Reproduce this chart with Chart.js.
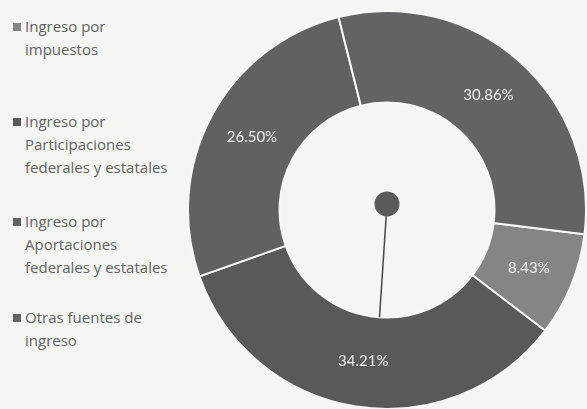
<!DOCTYPE html>
<html>
<head>
<meta charset="utf-8">
<script src="https://cdn.jsdelivr.net/npm/chart.js@4"></script>
<style>
  body { margin: 0; background: #f5f5f4; width: 587px; height: 409px; overflow: hidden; position: relative; font-family: "Open Sans", Lato, sans-serif; }
  #wrap { position: absolute; left: 187px; top: 10px; width: 400px; height: 400px; }
  .item { position: absolute; left: 13px; color: #636363; font-size: 15px; line-height: 23px; }
  .item .sw { position: absolute; left: 0; top: 8px; width: 8px; height: 8px; }
  .item .tx { margin-left: 12px; white-space: nowrap; }
</style>
</head>
<body>
<div id="legend"></div>
<div id="wrap"><canvas id="chart" width="400" height="400"></canvas></div>
<script>
// categorias (en el orden de la leyenda)
const categorias = [
  ['Ingreso por', 'impuestos'],
  ['Ingreso por', 'Participaciones', 'federales y estatales'],
  ['Ingreso por', 'Aportaciones', 'federales y estatales'],
  ['Otras fuentes de', 'ingreso']
];
const porcentajes = [8.43, 34.21, 26.50, 30.86];
const colores = ['#858585', '#595959', '#616161', '#636363'];
const legendTops = [15, 110, 210, 306];

// leyenda en html porque las etiquetas van en varias lineas
const legend = document.getElementById('legend');
categorias.forEach((lineas, i) => {
  const d = document.createElement('div');
  d.className = 'item';
  d.style.top = legendTops[i] + 'px';
  d.innerHTML = '<span class="sw" style="background:' + colores[i] + '"></span><div class="tx">' + lineas.join('<br>') + '</div>';
  legend.appendChild(d);
});

// etiquetas de porcentaje y el punto del centro
const extras = {
  id: 'extras',
  afterDatasetsDraw(chart) {
    const c = chart.ctx;
    const arcs = chart.getDatasetMeta(0).data;
    c.save();
    c.fillStyle = '#eeeeee';
    c.font = '15px Lato, sans-serif';
    c.textAlign = 'center';
    c.textBaseline = 'middle';
    arcs.forEach((a, i) => {
      const p = a.tooltipPosition();
      c.fillText(porcentajes[i].toFixed(2) + '%', p.x, p.y);
    });
    const cx = arcs[0].x, cy = arcs[0].y, r = arcs[0].innerRadius;
    const ang = 184 * Math.PI / 180;
    c.strokeStyle = '#474747';
    c.lineWidth = 1.5;
    c.beginPath();
    c.moveTo(cx, cy - 6);
    c.lineTo(cx + Math.sin(ang) * r, cy - Math.cos(ang) * r);
    c.stroke();
    c.fillStyle = '#5b5b5b';
    c.beginPath();
    c.arc(cx, cy - 6, 12.5, 0, Math.PI * 2);
    c.fill();
    c.restore();
  }
};

new Chart(document.getElementById('chart'), {
  type: 'doughnut',
  data: {
    labels: categorias.map(l => l.join(' ')),
    datasets: [{
      data: porcentajes,
      backgroundColor: colores,
      borderColor: '#f7f7f7',
      borderWidth: 2
    }]
  },
  options: {
    responsive: false,
    animation: false,
    rotation: 97,
    cutout: '54%',
    plugins: {
      legend: { display: false },
      tooltip: { enabled: false }
    }
  },
  plugins: [extras]
});
</script>
</body>
</html>
